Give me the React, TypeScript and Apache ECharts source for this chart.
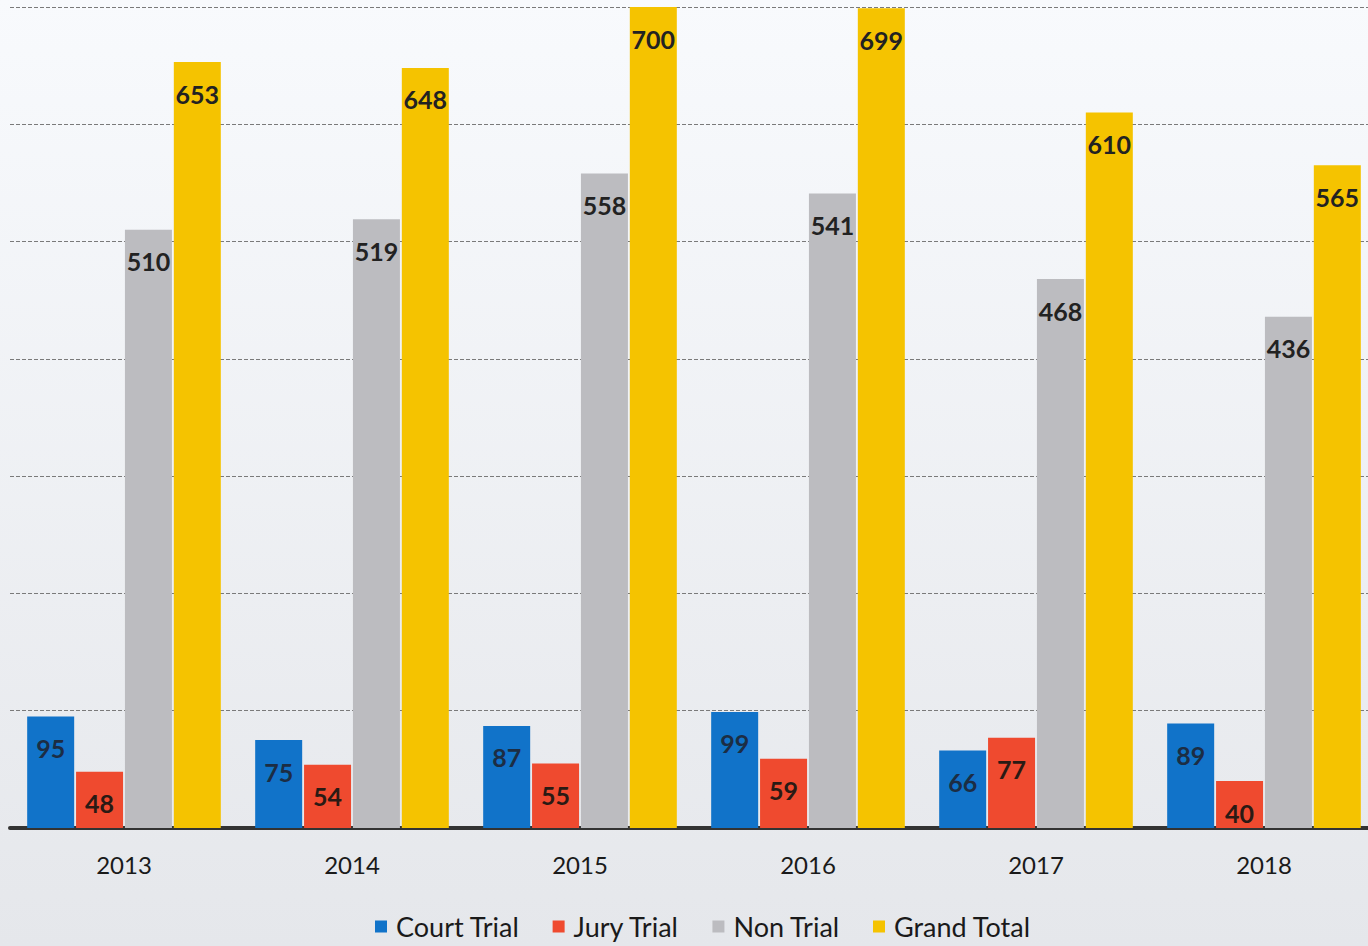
import React, { useEffect, useRef } from "react";
import * as echarts from "echarts";

const years = ["2013", "2014", "2015", "2016", "2017", "2018"];
const courtTrial = [95, 75, 87, 99, 66, 89];
const juryTrial = [48, 54, 55, 59, 77, 40];
const nonTrial = [510, 519, 558, 541, 468, 436];
const grandTotal = [653, 648, 700, 699, 610, 565];

const seriesNames = ["Court Trial", "Jury Trial", "Non Trial", "Grand Total"];
const seriesColors = ["#1173c9", "#ef4a2f", "#bcbcc0", "#f5c300"];
const labelColors = ["#1c2d44", "#2a1a14", "#222222", "#222222"];

export default function App() {
  const ref = useRef<HTMLDivElement>(null);
  useEffect(() => {
    if (!ref.current) return;
    const chart = echarts.init(ref.current, null, { renderer: "svg" });
    const data = [courtTrial, juryTrial, nonTrial, grandTotal];
    chart.setOption({
      animation: false,
      backgroundColor: {
        type: "linear",
        x: 0,
        y: 0,
        x2: 0,
        y2: 1,
        colorStops: [
          { offset: 0, color: "#f8fafd" },
          { offset: 1, color: "#e5e7eb" },
        ],
      },
      textStyle: { fontFamily: "Lato" },
      grid: {
        left: 10,
        width: 1368,
        top: 7,
        bottom: 118,
        containLabel: false,
        outerBoundsMode: "none",
      },
      legend: {
        bottom: 0,
        left: 369,
        data: seriesNames,
        icon: "rect",
        itemWidth: 12,
        itemHeight: 12,
        itemGap: 33,
        padding: [6, 6],
        textStyle: { fontSize: 27, color: "#1a1a1a", fontFamily: "Lato", padding: [0, 0, 0, 4] },
      },
      xAxis: {
        type: "category",
        data: years,
        axisTick: { show: false },
        axisLine: { lineStyle: { color: "#333333", width: 4 } },
        axisLabel: { fontSize: 24, color: "#1a1a1a", margin: 24, fontFamily: "Lato" },
      },
      yAxis: {
        type: "value",
        min: 0,
        max: 700,
        interval: 100,
        axisLabel: { show: false },
        axisLine: { show: false },
        axisTick: { show: false },
        splitLine: { lineStyle: { color: "#7a7a7a", type: [4, 2], width: 1 } },
      },
      series: seriesNames.map((name, i) => ({
        name,
        type: "bar",
        data: data[i],
        barWidth: 47,
        barGap: "4%",
        itemStyle: { color: seriesColors[i] },
        label: {
          show: true,
          position: "insideTop",
          distance: 19,
          fontSize: 25,
          fontWeight: "bold",
          color: labelColors[i],
          fontFamily: "Lato",
        },
      })),
    });
    return () => chart.dispose();
  }, []);
  return (
    <div
      ref={ref}
      style={{ position: "absolute", left: 0, top: 0, width: 1368, height: 946 }}
    />
  );
}
